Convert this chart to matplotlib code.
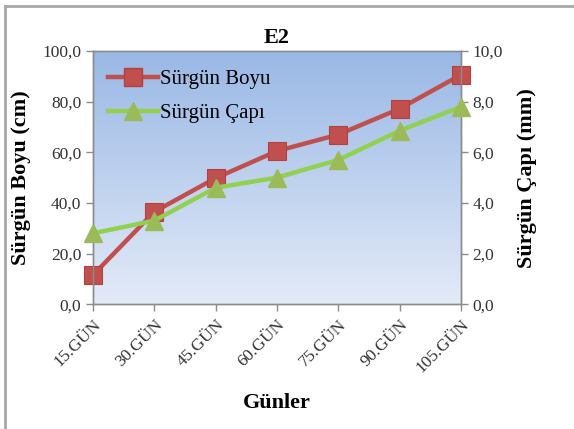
#!/usr/bin/env python3
"""E2: shoot length and diameter over days (twin-axis line chart)."""

import numpy as np
import matplotlib
matplotlib.use("Agg")
import matplotlib.pyplot as plt
from matplotlib.lines import Line2D

# ------------------------------------------------------------------
# Data
# ------------------------------------------------------------------
DAYS = ["15.GÜN", "30.GÜN", "45.GÜN", "60.GÜN", "75.GÜN", "90.GÜN", "105.GÜN"]
BOYU_CM = [11.5, 36.5, 49.8, 60.5, 67.0, 77.2, 90.6]
CAPI_MM = [2.8, 3.3, 4.6, 5.0, 5.7, 6.85, 7.8]
LEFT_TICKS = [0, 20, 40, 60, 80, 100]
RIGHT_TICKS = [0, 2, 4, 6, 8, 10]

RED = "#C0504D"
RED_EDGE = "#B5403D"
GREEN_LINE = "#92D050"
GREEN_MARK = "#9BBB59"
AXIS_GRAY = "#8C8C8C"
FRAME = "#A8A8A8"

plt.rcParams.update({
    "font.family": ["Liberation Serif", "DejaVu Serif"],
})

fig = plt.figure(figsize=(5.74, 4.29), dpi=100, facecolor="white")
ax = fig.add_axes([0.162, 0.291, 0.641, 0.590])
ax2 = ax.twinx()

x = np.arange(len(DAYS))

# Excel-like vertical gradient behind the plot
grad = np.linspace(0, 1, 256).reshape(-1, 1)
top = np.array([0.60, 0.72, 0.90])
bot = np.array([0.89, 0.92, 0.97])
img = top[None, None, :] * (1 - grad[:, :, None]) + bot[None, None, :] * grad[:, :, None]
ax.imshow(img, extent=[0, len(DAYS) - 1, 0, 100], aspect="auto",
          origin="upper", zorder=0)

ax.plot(x, BOYU_CM, color=RED, lw=3.2, marker="s", ms=13,
        mfc=RED, mec=RED_EDGE, mew=0.8, zorder=3, clip_on=False)
ax2.plot(x, CAPI_MM, color=GREEN_LINE, lw=3.2, marker="^", ms=13,
         mfc=GREEN_MARK, mec=GREEN_MARK, zorder=3, clip_on=False)

ax.set_xlim(0, len(DAYS) - 1)
ax.set_ylim(0, 100)
ax2.set_ylim(0, 10)

ax.set_xticks(x)
ax.set_xticklabels(DAYS, rotation=45, ha="right", rotation_mode="anchor",
                   fontsize=12.5)
ax.set_yticks(LEFT_TICKS)
ax.set_yticklabels([f"{v:.1f}".replace(".", ",") for v in LEFT_TICKS],
                   fontsize=12.5)
ax2.set_yticks(RIGHT_TICKS)
ax2.set_yticklabels([f"{v:.1f}".replace(".", ",") for v in RIGHT_TICKS],
                    fontsize=12.5)

for a in (ax, ax2):
    for s in a.spines.values():
        s.set_color(AXIS_GRAY)
        s.set_linewidth(1.0)
    a.tick_params(colors="#333333", length=5, width=1.0, color=AXIS_GRAY)
ax.tick_params(axis="x", pad=4)

ax.set_ylabel("Sürgün Boyu (cm)", fontsize=16, fontweight="bold", labelpad=8)
ax2.set_ylabel("Sürgün Çapı (mm)", fontsize=16, fontweight="bold",
               rotation=90, labelpad=10)
ax.set_xlabel("Günler", fontsize=16, fontweight="bold", labelpad=12)
ax.set_title("E2", fontsize=16, fontweight="bold", pad=6)

handles = [
    Line2D([], [], color=RED, lw=3.2, marker="s", ms=13, mfc=RED, mec=RED_EDGE),
    Line2D([], [], color=GREEN_LINE, lw=3.2, marker="^", ms=13,
           mfc=GREEN_MARK, mec=GREEN_MARK),
]
ax2.legend(handles, ["Sürgün Boyu", "Sürgün Çapı"], loc="upper left",
           frameon=False, fontsize=15, handlelength=2.4, handletextpad=0.1,
           borderaxespad=0.3, labelspacing=0.7, bbox_to_anchor=(0.0, 0.985))

# Outer chart frame (left and top edges visible)
fig.add_artist(Line2D([0.009, 0.009], [0.0, 0.986], color=FRAME, lw=2.0,
                      transform=fig.transFigure))
fig.add_artist(Line2D([0.009, 1.0], [0.986, 0.986], color=FRAME, lw=2.0,
                      transform=fig.transFigure))

fig.savefig("out.png", dpi=100, facecolor="white")
